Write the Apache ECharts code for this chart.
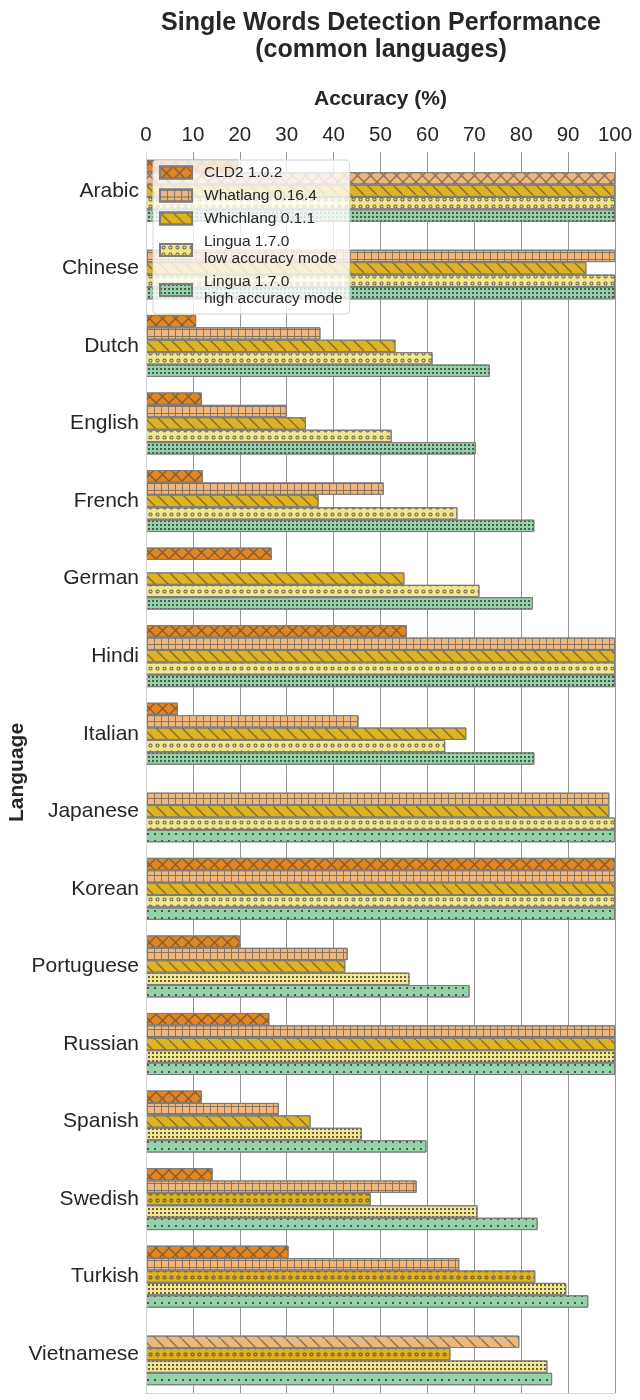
<!DOCTYPE html>
<html>
<head>
<meta charset="utf-8">
<script src="https://cdn.jsdelivr.net/npm/echarts@6/dist/echarts.min.js"></script>
<style>
html,body{margin:0;padding:0;background:#fff;}
#chart{width:640px;height:1400px;}
</style>
</head>
<body>
<div id="chart"></div>
<script>
// ---- data ----
const languages = ['Arabic','Chinese','Dutch','English','French','German','Hindi','Italian','Japanese','Korean','Portuguese','Russian','Spanish','Swedish','Turkish','Vietnamese'];
const seriesNames = ['CLD2 1.0.2','Whatlang 0.16.4','Whichlang 0.1.1','Lingua 1.7.0\nlow accuracy mode','Lingua 1.7.0\nhigh accuracy mode'];
const cld2       = [19.7, null, 10.7, 11.9, 12.1, 26.8, 55.6, 6.8, null, 100, 20.0, 26.3, 11.9, 14.2, 30.4, null];
const whatlang   = [100, 100, 37.2, 30.0, 50.7, null, 100, 45.3, 98.8, 100, 43.0, 100, 28.3, 57.7, 66.8, 79.6];
const whichlang  = [100, 93.9, 53.2, 34.1, 36.8, 55.1, 100, 68.3, 98.8, 100, 42.5, 100, 35.1, 47.9, 83.0, 64.9];
const linguaLow  = [100, 100, 61.1, 52.4, 66.4, 71.1, 100, 63.8, 100, 100, 56.2, 100, 46.0, 70.7, 89.6, 85.6];
const linguaHigh = [100, 100, 73.3, 70.3, 82.8, 82.5, 100, 82.8, 100, 100, 69.0, 100, 59.8, 83.5, 94.3, 86.6];
const xTicks = [0,10,20,30,40,50,60,70,80,90,100];

// ---- styles ----
const colors = ['#e18520','#edb67c','#deb221','#f2e68e','#94d3a9'];
const HC = 'rgba(60,60,60,0.55)';
const DC = 'rgba(50,50,50,0.75)';
const FONT = "'Liberation Sans', Arial, sans-serif";
const decals = {
  'x': {symbol:'path://M0,0 L1,0 L13,12 L13,13 L12,13 L0,1 Z M13,0 L13,1 L1,13 L0,13 L0,12 L12,0 Z', symbolSize:1, dashArrayX:[[13,0]], dashArrayY:[13,0], color:HC},
  '+': {symbol:'path://M0,0 L7,0 L7,1 L1,1 L1,7 L0,7 Z', symbolSize:1, dashArrayX:[[7,0]], dashArrayY:[7,0], color:HC},
  '\\': {symbol:'path://M0,0 L1,0 L13,12 L13,13 L12,13 L0,1 Z', symbolSize:1, dashArrayX:[[13,0]], dashArrayY:[13,0], color:HC},
  'o': {symbol:'path://M0,0 L0.01,0 L0,0.01 Z M7,7 L6.99,7 L7,6.99 Z M1.4,3.5 A2.1,2.1 0 1,0 5.6,3.5 A2.1,2.1 0 1,0 1.4,3.5 Z M2.4,3.5 A1.1,1.1 0 1,1 4.6,3.5 A1.1,1.1 0 1,1 2.4,3.5 Z', symbolSize:1, dashArrayX:[[7,0]], dashArrayY:[7,0], color:DC},
  'D': {symbol:'rect', symbolSize:1, dashArrayX:[[1.5,1.8]], dashArrayY:[1.5,1.8], color:DC},
  '.': {symbol:'rect', symbolSize:1, dashArrayX:[[2,4.7]], dashArrayY:[2,4.7], color:DC}
};
const legendHatch = ['x','+','\\','o','D'];
const hatches = [
  ['x','x','x','x','x','x','x','x','x','x','x','x','x','x','x','x'],
  ['x','+','+','+','+','+','+','+','+','+','+','+','+','+','+','\\'],
  ['\\','\\','\\','\\','\\','\\','\\','\\','\\','\\','\\','\\','\\','o','o','o'],
  ['o','o','o','o','o','o','o','o','o','o','D','D','D','D','D','D'],
  ['D','D','D','D','D','D','D','D','.','.','.','.','.','.','.','.']
];
const values = [cld2, whatlang, whichlang, linguaLow, linguaHigh];

const series = values.map((vals, si) => ({
  name: seriesNames[si],
  type: 'bar',
  xAxisIndex: 0,
  yAxisIndex: 0,
  barGap: '0%',
  barCategoryGap: '20%',
  itemStyle: {color: colors[si], borderColor: '#7d7d7d', borderWidth: 1, decal: decals[legendHatch[si]]},
  emphasis: {disabled: true},
  data: vals.map((v, ci) => v == null ? '-' : {value: v, itemStyle: {decal: decals[hatches[si][ci]]}})
}));

const chart = echarts.init(document.getElementById('chart'), null, {renderer: 'canvas'});
chart.setOption({
  animation: false,
  backgroundColor: '#ffffff',
  textStyle: {fontFamily: FONT},
  title: {
    text: 'Single Words Detection Performance\n(common languages)',
    left: 381, top: 10, padding: 0, textAlign: 'center',
    textStyle: {fontFamily: FONT, fontSize: 25, fontWeight: 'bold', color: '#262626', lineHeight: 27}
  },
  legend: {
    orient: 'vertical', left: 153, top: 160,
    data: seriesNames,
    itemWidth: 32, itemHeight: 12, itemGap: 6,
    padding: [4, 7, 7, 6],
    backgroundColor: 'rgba(255,255,255,0.8)',
    borderColor: '#d4d4d4', borderWidth: 1, borderRadius: 4,
    icon: 'rect',
    textStyle: {fontFamily: FONT, fontSize: 15.5, color: '#262626', lineHeight: 17, padding: [0,0,0,7]},
    selectedMode: false,
    z: 10
  },
  grid: {left: 146, right: 25, top: 152, bottom: 7, containLabel: false, outerBoundsMode: 'none'},
  xAxis: [{
    type: 'value', position: 'top', min: 0, max: 100, interval: 10,
    name: 'Accuracy (%)', nameLocation: 'middle', nameGap: 42, nameMoveOverlap: false,
    nameTextStyle: {fontFamily: FONT, fontSize: 21, fontWeight: 'bold', color: '#262626'},
    axisLine: {show: false}, axisTick: {show: false},
    axisLabel: {fontFamily: FONT, fontSize: 20.5, color: '#262626', margin: 6,
      formatter: v => xTicks.indexOf(v) >= 0 ? String(v) : ''},
    splitLine: {show: true, lineStyle: {color: '#959595', width: 1}}
  }, {
    type: 'value', position: 'bottom', min: 0, max: 100, interval: 10,
    axisLine: {show: true, lineStyle: {color: '#d6d6d6', width: 1}},
    axisTick: {show: false}, axisLabel: {show: false}, splitLine: {show: false}
  }],
  yAxis: [{
    type: 'category', data: languages, inverse: true,
    name: 'Language', nameLocation: 'middle', nameGap: 118, nameRotate: 90, nameMoveOverlap: false,
    nameTextStyle: {fontFamily: FONT, fontSize: 21, fontWeight: 'bold', color: '#262626'},
    axisLine: {show: true, lineStyle: {color: '#d6d6d6', width: 1}},
    axisTick: {show: false},
    axisLabel: {fontFamily: FONT, fontSize: 21, color: '#262626', margin: 7},
    splitLine: {show: false}
  }, {
    type: 'category', data: languages, inverse: true, position: 'right',
    axisLine: {show: true, lineStyle: {color: '#d6d6d6', width: 1}},
    axisTick: {show: false}, axisLabel: {show: false}, splitLine: {show: false}, z: 5
  }],
  series: series
});
</script>
</body>
</html>
